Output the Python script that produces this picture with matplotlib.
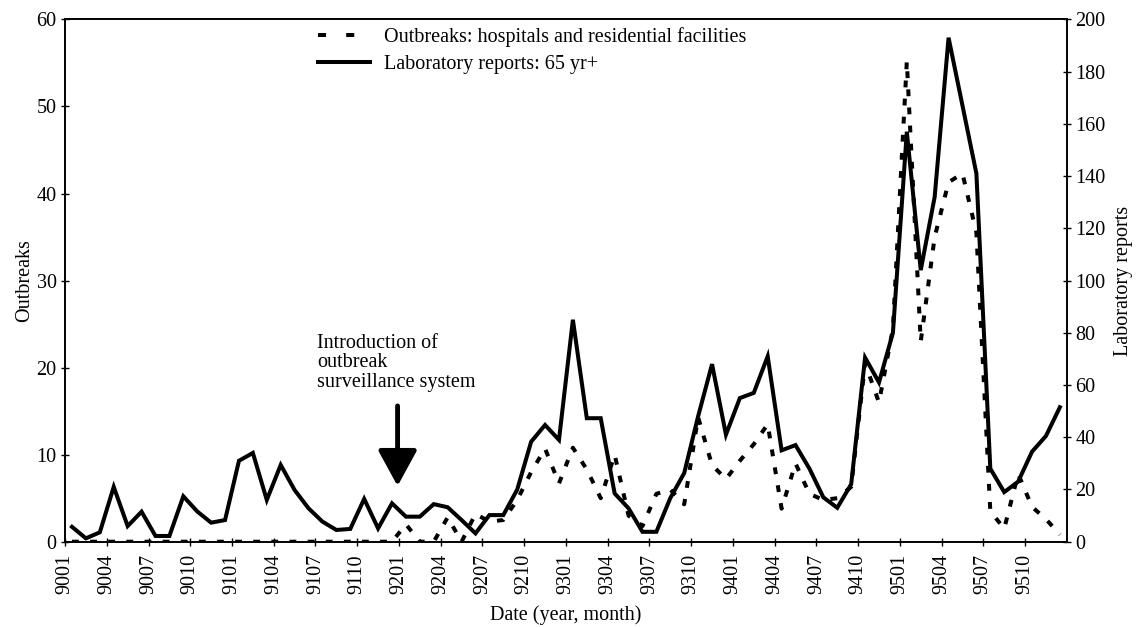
#!/usr/bin/env python3
import numpy as np
import matplotlib.pyplot as plt
from matplotlib.lines import Line2D

plt.rcParams['font.family'] = ['Liberation Serif', 'DejaVu Serif']
plt.rcParams['font.size'] = 14.5

# ---- data ----------------------------------------------------------------
# months Jan 1990 .. Dec 1995, coded yymm
months = [f"{y:02d}{m:02d}" for y in range(90, 96) for m in range(1, 13)]
tick_labels = months[::3]

# laboratory reports, 65 yr+ (right axis)
lab_reports = [
    5.7, 1.3, 3.6, 21, 6, 11.5, 2.2, 2.2, 17.4, 11.6, 7.3, 8.3,
    31, 34, 16, 29.4, 19.8, 12.8, 7.7, 4.5, 4.9, 16.4, 5.1, 14.7,
    9.6, 9.6, 14.4, 13.2, 8.3, 3.2, 10.2, 10.2, 20, 38.3, 44.7, 39,
    85, 47.3, 47.3, 18.5, 12.8, 3.8, 3.8, 16.7, 26.3, 48, 68, 41,
    55, 57, 71, 35, 37, 28, 17, 13, 22, 70.5, 61, 80,
    157, 104, 132, 193, 167, 141, 28, 19, 23, 34.5, 40.5, 51.5,
]

# outbreaks in hospitals and residential facilities (left axis)
outbreaks = [
    0, 0, 0, 0, 0, 0, 0, 0, 0, 0, 0, 0,
    0, 0, 0, 0, 0, 0, 0, 0, 0, 0, 0, 0,
    2, 0, 0, 2.8, 0, 3.2, 2.3, 2.5, 4.8, 8, 10.7, 6.7,
    10.8, 8.3, 5, 10, 3, 1.8, 5.5, 6, 4.3, 14.3, 8.8, 7.2,
    9.3, 11.2, 13.5, 3.8, 9, 5.5, 4.8, 5, 6.3, 20.5, 16, 24.5,
    55.2, 23, 35, 41.3, 42.3, 35.5, 3.5, 1.5, 7.8, 4, 2.6, 0.8,
]

x = np.arange(len(months)) + 0.5

# ---- plot ----------------------------------------------------------------
fig = plt.figure(figsize=(11.41, 6.27), dpi=100)
ax = fig.add_axes([0.057, 0.136, 0.878, 0.833])
ax2 = ax.twinx()

dash_style = dict(color="black", lw=2.9, dashes=(1.7, 2.8),
                  dash_capstyle="butt")
ax.plot(x, outbreaks, **dash_style)
ax2.plot(x, lab_reports, color="black", lw=2.9, solid_joinstyle="miter")

ax.set_xlim(0, 72)
ax.set_ylim(0, 60)
ax2.set_ylim(0, 200)
ax.set_yticks(range(0, 61, 10))
ax2.set_yticks(range(0, 201, 20))
ax.set_xticks(range(0, 72, 3))
ax.set_xticklabels(tick_labels, rotation=90)

for a in (ax, ax2):
    a.tick_params(direction="inout", length=6, width=1, pad=3)
    for s in a.spines.values():
        s.set_linewidth(1.2)
ax.tick_params(axis="x", pad=6)

ax.set_xlabel("Date (year, month)", labelpad=8)
ax.set_ylabel("Outbreaks", labelpad=2)
ax2.set_ylabel("Laboratory reports", labelpad=6)

# annotation
ax.annotate("", xy=(23.9, 6.4), xytext=(23.9, 15.6),
            arrowprops=dict(arrowstyle="-|>,head_length=1.1,head_width=0.6",
                            lw=3.5, color="black", shrinkA=0, shrinkB=0,
                            mutation_scale=20))
ax.text(18.1, 23.9, "Introduction of\noutbreak\nsurveillance system",
        ha="left", va="top", linespacing=1.05)

handles = [Line2D([], [], color="black", lw=2.9, dashes=(2, 5),
                  dash_capstyle="butt"),
           Line2D([], [], color="black", lw=2.9)]
labels = ["Outbreaks: hospitals and residential facilities",
          "Laboratory reports: 65 yr+"]
fig.legend(handles, labels, loc="upper left",
           bbox_to_anchor=(318 / 1141, 1 - 27 / 627), frameon=False,
           borderpad=0, borderaxespad=0, handlelength=2.6, handletextpad=0.7,
           labelspacing=0.42)

plt.savefig("out.png", dpi=100)
